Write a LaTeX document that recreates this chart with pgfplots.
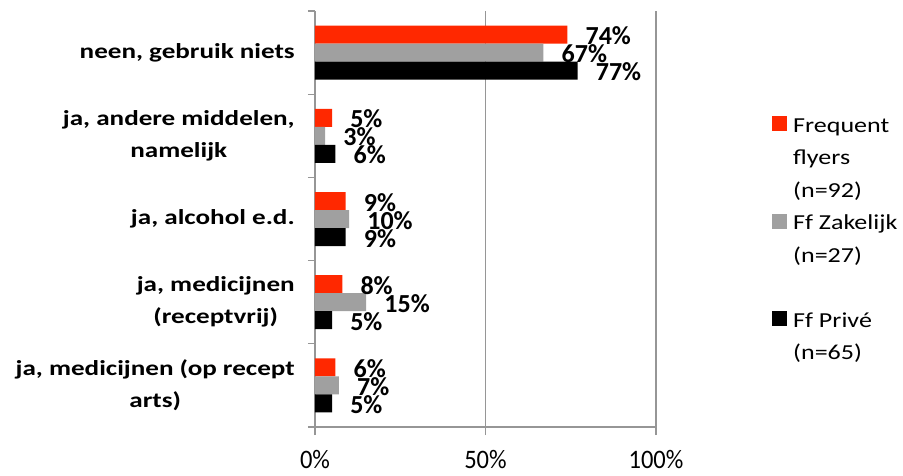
\documentclass[border=0pt]{standalone}
\usepackage{pgfplots}
\pgfplotsset{compat=1.18}
\usepackage{fontspec}
\setmainfont{Carlito}
\newfontfamily\catfont[FakeStretch=1.27]{Carlito}
\newfontfamily\legfont[FakeStretch=1.22]{Carlito}
\newfontfamily\tickfont[FakeStretch=0.92]{Carlito}
\definecolor{ffred}{RGB}{255,40,0}
\definecolor{ffgray}{RGB}{160,160,160}
\definecolor{axgray}{RGB}{150,150,150}
\begin{document}
\begin{tikzpicture}
\path[use as bounding box] (-236.25pt,-36pt) rectangle (441pt,320.25pt);
\begin{axis}[
  xbar,
  scale only axis,
  width=255.75pt, height=312pt,
  bar width=13.5pt,
  xmin=0, xmax=100,
  ymin=-0.5, ymax=4.5,
  axis x line*=bottom, axis y line*=left,
  axis line style={draw=axgray, line width=0.8pt, -},
  xtick={0,50,100},
  xticklabels={0\%,50\%,100\%},
  xticklabel style={font=\tickfont\fontsize{20}{24}\selectfont, anchor=base, inner sep=0pt, yshift=-25pt},
  ytick={0,1,2,3,4},
  yticklabels={{ja, medicijnen (op recept\\arts)},{ja, medicijnen\\(receptvrij)},{ja, alcohol e.d.},{ja, andere middelen,\\namelijk},{neen, gebruik niets}},
  yticklabel style={font=\catfont\bfseries\fontsize{16}{24}\selectfont, align=center, anchor=east, inner sep=0pt, xshift=-9pt},
  minor ytick={-0.5,0.5,1.5,2.5,3.5,4.5},
  tick align=outside,
  major tick length=6pt,
  minor tick length=5.25pt,
  tick style={draw=axgray, line width=0.8pt},
  every major y tick/.append style={draw=none},
  xmajorgrids,
  major grid style={draw=axgray, line width=0.8pt},
  /pgf/number format/assume math mode=true,
  nodes near coords={\pgfmathprintnumber{\pgfplotspointmeta}\%},
  point meta=x,
  every node near coord/.append style={anchor=west, inner sep=0pt, xshift=13.5pt, yshift=-1pt, text=black, font=\bfseries\fontsize{19.5}{24}\selectfont},
  legend image code/.code={\fill[#1] (0pt,0.75pt) rectangle (11.25pt,12pt);},
  legend style={at={(1.34,0.764)}, anchor=north west, draw=none, fill=none, inner sep=0pt, row sep=0pt, column sep=4.5pt,
    nodes={anchor=base west, inner sep=0pt, text height=17pt, text depth=7.4pt, text=black, font=\legfont\fontsize{16}{24}\selectfont}},
]
\addplot[fill=ffred, draw=none, bar shift=13.5pt] coordinates {(6,0) (8,1) (9,2) (5,3) (74,4)};
\addlegendentry{Frequent}
\addlegendimage{empty legend}\addlegendentry{flyers}
\addlegendimage{empty legend}\addlegendentry{(n=92)}
\addplot[fill=ffgray, draw=none, bar shift=0pt] coordinates {(7,0) (15,1) (10,2) (3,3) (67,4)};
\addlegendentry{Ff Zakelijk}
\addlegendimage{empty legend}\addlegendentry{(n=27)}
\addlegendimage{empty legend}\addlegendentry{}
\addplot[fill=black, draw=none, bar shift=-13.5pt] coordinates {(5,0) (5,1) (9,2) (6,3) (77,4)};
\addlegendentry{Ff Priv\'e}
\addlegendimage{empty legend}\addlegendentry{(n=65)}
\end{axis}
\end{tikzpicture}
\end{document}
